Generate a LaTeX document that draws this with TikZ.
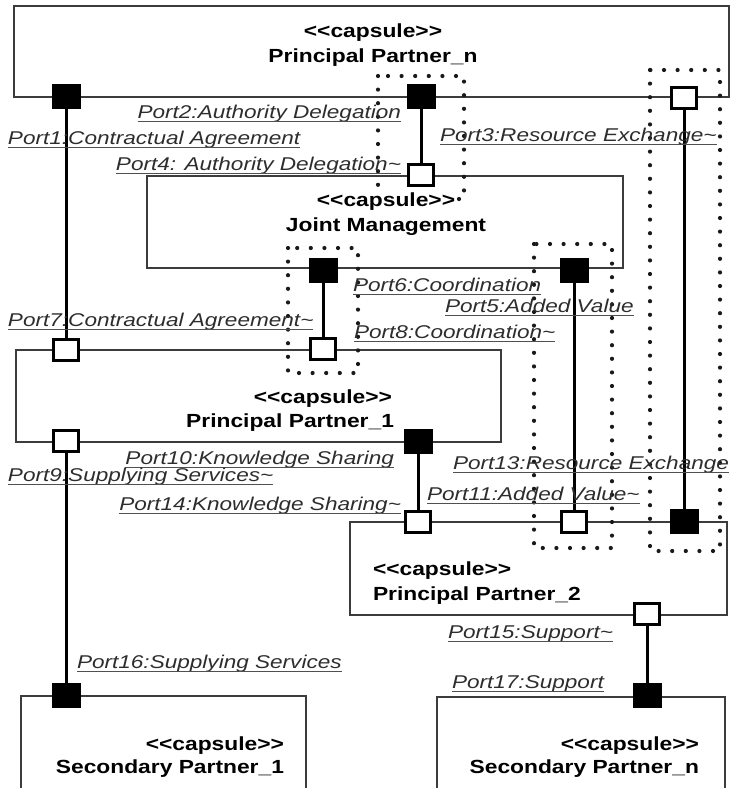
\documentclass[tikz,border=0pt]{standalone}
\usepackage{fontspec}
\newfontfamily\lblfont{Liberation Sans}[FakeStretch=1.22]
\newfontfamily\ttlfont{Liberation Sans}[FakeStretch=1.2]
\definecolor{boxgray}{RGB}{60,60,60}
\definecolor{lbltext}{RGB}{45,45,45}
\definecolor{ulgray}{RGB}{80,80,80}
\tikzset{
  capbox/.style={draw=boxgray, line width=1.6pt, inner sep=0pt, outer sep=0pt, anchor=north west},
  bport/.style={fill=black, draw=none, minimum width=29pt, minimum height=25pt, inner sep=0pt, outer sep=0pt},
  wport/.style={fill=white, draw=black, line width=3.2pt, minimum width=25.5pt, minimum height=21pt, inner sep=0pt, outer sep=1.6pt},
  conn/.style={line width=3pt, draw=black},
  dotbox/.style={draw=black!90, line width=4.2pt, line cap=round, dash pattern=on 0pt off 13.6pt},
  lbl/.style={font=\lblfont\itshape\fontsize{18.5}{22}\selectfont, text=lbltext, inner sep=0pt, outer sep=0pt,
    append after command={([yshift=-3.2pt]\tikzlastnode.base west) edge[draw=ulgray, line width=1.4pt] ([yshift=-3.2pt]\tikzlastnode.base east)}},
  ttl/.style={font=\ttlfont\bfseries\fontsize{19}{23}\selectfont, text=black, inner sep=0pt, outer sep=0pt},
}
\begin{document}
\begin{tikzpicture}[x=1pt,y=-1pt]
\useasboundingbox (0,0) rectangle (731,788);
\clip (0,0) rectangle (731,788);

% capsule boxes
\node[capbox, minimum width=715pt, minimum height=91pt] (ppn) at (14,6) {};
\node[capbox, minimum width=476pt, minimum height=92pt] (jm) at (147,176) {};
\node[capbox, minimum width=485pt, minimum height=92pt] (pp1) at (16,350) {};
\node[capbox, minimum width=377pt, minimum height=93pt] (pp2) at (350,522) {};
\node[capbox, minimum width=285pt, minimum height=110pt] (sp1) at (21,696) {};
\node[capbox, minimum width=288pt, minimum height=110pt] (spn) at (437,697) {};

% dotted groupings
\draw[dotbox] (378,76) rectangle (464,199);
\draw[dotbox] (650,70) rectangle (720,551);
\draw[dotbox] (288,248) rectangle (358,373);
\draw[dotbox] (534,244) rectangle (612,548);

% ports
\node[bport] (p1) at (66,96) {};
\node[bport] (p2) at (421,96) {};
\node[wport] (p3) at (684,98) {};
\node[wport] (p4) at (421,175) {};
\node[bport] (p6) at (323,270) {};
\node[bport] (p5) at (574,270) {};
\node[wport] (p7) at (66,350) {};
\node[wport] (p8) at (323,349) {};
\node[wport] (p9) at (66,441) {};
\node[bport] (p10) at (418,441) {};
\node[wport] (p14) at (418,522) {};
\node[wport] (p11) at (574,522) {};
\node[bport] (p13) at (684,521) {};
\node[wport] (p15) at (647,614) {};
\node[bport] (p17) at (647,695) {};
\node[bport] (p16) at (66,695) {};

% connectors
\draw[conn] (p1) -- (p7);
\draw[conn] (p2) -- (p4);
\draw[conn] (p3) -- (p13);
\draw[conn] (p6) -- (p8);
\draw[conn] (p5) -- (p11);
\draw[conn] (p10) -- (p14);
\draw[conn] (p9) -- (p16);
\draw[conn] (p15) -- (p17);

% port labels
\node[lbl, anchor=base east] (l2) at (401,118) {Port2:Authority Delegation};
\node[lbl, anchor=base west] (l1) at (8,144) {Port1:Contractual Agreement};
\node[lbl, anchor=base east] (l4) at (401,170) {Port4: Authority Delegation\textasciitilde};
\node[lbl, anchor=base west] (l3) at (440,141) {Port3:Resource Exchange\textasciitilde};
\node[lbl, anchor=base west] (l6) at (353,291) {Port6:Coordination};
\node[lbl, anchor=base west] (l5) at (445,312) {Port5:Added Value};
\node[lbl, anchor=base west] (l7) at (8,326) {Port7:Contractual Agreement\textasciitilde};
\node[lbl, anchor=base west] (l8) at (354,338) {Port8:Coordination\textasciitilde};
\node[lbl, anchor=base east] (l10) at (394,464) {Port10:Knowledge Sharing};
\node[lbl, anchor=base west] (l9) at (8,481) {Port9:Supplying Services\textasciitilde};
\node[lbl, anchor=base east] (l14) at (401,510) {Port14:Knowledge Sharing\textasciitilde};
\node[lbl, anchor=base west] (l13) at (453,469) {Port13:Resource Exchange};
\node[lbl, anchor=base west] (l11) at (427,500) {Port11:Added Value\textasciitilde};
\node[lbl, anchor=base west] (l16) at (77,668) {Port16:Supplying Services};
\node[lbl, anchor=base west] (l15) at (448,638) {Port15:Support\textasciitilde};
\node[lbl, anchor=base west] (l17) at (452,688) {Port17:Support};

% capsule titles
\node[ttl, anchor=base] (ppn-s) at (373,37) {<{}<capsule>{}>};
\node[ttl, anchor=base] (ppn-n) at (373,62) {Principal Partner\_n};
\node[ttl, anchor=base, fill=white, inner sep=1pt] (jm-s) at (386,206) {<{}<capsule>{}>};
\node[ttl, anchor=base] (jm-n) at (386,231) {Joint Management};
\node[ttl, anchor=base east] (pp1-s) at (392,403) {<{}<capsule>{}>};
\node[ttl, anchor=base east] (pp1-n) at (394,427) {Principal Partner\_1};
\node[ttl, anchor=base west] (pp2-s) at (373,575) {<{}<capsule>{}>};
\node[ttl, anchor=base west] (pp2-n) at (373,600) {Principal Partner\_2};
\node[ttl, anchor=base east] (sp1-s) at (284,750) {<{}<capsule>{}>};
\node[ttl, anchor=base east] (sp1-n) at (284,773) {Secondary Partner\_1};
\node[ttl, anchor=base east] (spn-s) at (699,750) {<{}<capsule>{}>};
\node[ttl, anchor=base east] (spn-n) at (699,773) {Secondary Partner\_n};
\end{tikzpicture}
\end{document}
